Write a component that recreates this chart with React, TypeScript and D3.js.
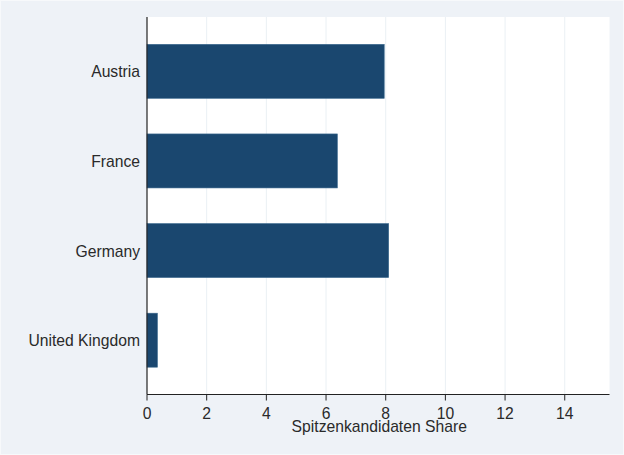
import React from "react";
import * as d3 from "d3";

const categories = ["Austria", "France", "Germany", "United Kingdom"];
const values = [7.95, 6.38, 8.1, 0.35];
const xTicks = [0, 2, 4, 6, 8, 10, 12, 14];
const xTitle = "Spitzenkandidaten Share";

export default function App() {
  const W = 624, H = 455;
  const left = 147, right = 609.5, top = 17, bottom = 394.5;
  const x = d3.scaleLinear().domain([0, 15.5]).range([left, right]);
  const y = d3.scalePoint<string>().domain(categories).range([top, bottom]).padding(0.606);
  const barH = 54;
  const font = "'Liberation Sans', Arial, Helvetica, sans-serif";
  const fs = 15.7;
  const tc = "#2a2a2a";
  return (
    <svg width={W} height={H} style={{ position: "absolute", left: 0, top: 0 }}>
      <rect x={0} y={0} width={W} height={H} fill="#eef2f7" />
      <rect x={0.5} y={0.5} width={W - 1} height={H - 1} fill="none" stroke="#f7f9fb" />
      <rect x={left} y={top} width={right - left} height={bottom - top} fill="#ffffff" />
      {xTicks.filter((t) => t !== 0).map((t) => (
        <line key={t} x1={x(t)} x2={x(t)} y1={top} y2={bottom} stroke="#eaf0f4" strokeWidth={1} />
      ))}
      {categories.map((c, i) => (
        <rect key={c} x={x(0)} y={(y(c) as number) - barH / 2} width={x(values[i]) - x(0)} height={barH}
          fill="#1a476f" stroke="#3d6a8f" strokeWidth={0.6} />
      ))}
      <line x1={left} x2={left} y1={top} y2={bottom} stroke="#222" strokeWidth={1.2} />
      <line x1={left} x2={right} y1={bottom} y2={bottom} stroke="#222" strokeWidth={1.2} />
      {categories.map((c) => (
        <text key={c} x={140} y={(y(c) as number) + 6} textAnchor="end" fontFamily={font} fontSize={fs} fill={tc}>{c}</text>
      ))}
      {xTicks.map((t) => (
        <g key={t}>
          <line x1={x(t)} x2={x(t)} y1={bottom} y2={bottom + 6} stroke="#222" strokeWidth={1} />
          <text x={x(t)} y={419} textAnchor="middle" fontFamily={font} fontSize={fs} fill={tc}>{t}</text>
        </g>
      ))}
      <text x={(left + right) / 2 + 1} y={432} textAnchor="middle" fontFamily={font} fontSize={fs} fill={tc}>{xTitle}</text>
    </svg>
  );
}
